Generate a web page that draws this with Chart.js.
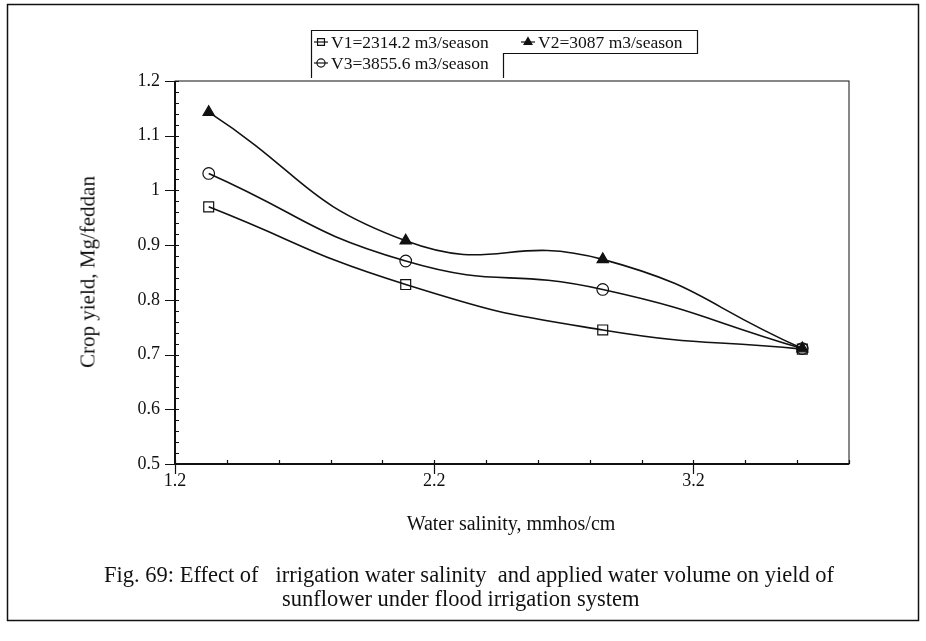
<!DOCTYPE html>
<html>
<head>
<meta charset="utf-8">
<script src="https://cdn.jsdelivr.net/npm/chart.js@4.4.0/dist/chart.umd.min.js"></script>
<style>
html,body{margin:0;padding:0;background:#fff;}
#wrap{position:relative;width:926px;height:641px;overflow:hidden;}
#chart{position:absolute;left:0;top:0;}
.txt{position:absolute;font-family:"Liberation Serif","Times New Roman",serif;color:#111;white-space:pre;line-height:1;}
</style>
</head>
<body>
<div id="wrap">
  <canvas id="chart" width="926" height="641"></canvas>
  <div class="txt" id="ytitle" style="font-size:21px;left:88px;top:272px;transform:translate(-50%,-50%) rotate(-90deg);">Crop yield, Mg/feddan</div>
  <div class="txt" style="font-size:20px;left:511px;top:523px;transform:translate(-50%,-50%);">Water salinity, mmhos/cm</div>
  <div class="txt" style="font-size:22.5px;left:104px;top:564px;">Fig. 69: Effect of   irrigation water salinity  and applied water volume on yield of</div>
  <div class="txt" style="font-size:22.5px;left:282px;top:588px;">sunflower under flood irrigation system</div>
</div>
<script>
// values
const salinity = [1.33, 2.09, 2.85, 3.62];
const yieldV1 = [0.97, 0.828, 0.745, 0.71];
const yieldV2 = [1.143, 0.908, 0.874, 0.711];
const yieldV3 = [1.031, 0.871, 0.819, 0.711];
const seriesNames = ['V1=2314.2 m3/season', 'V2=3087 m3/season', 'V3=3855.6 m3/season'];
const xTicks = [1.2, 2.2, 3.2];
const yTicks = [0.5, 0.6, 0.7, 0.8, 0.9, 1, 1.1, 1.2];

const FONT = '"Liberation Serif", "Times New Roman", serif';
const INK = '#111';

function pts(ys){ return ys.map((y,i)=>({x:salinity[i], y:y})); }

const markers = [
  {pointStyle:'rect', radius:7, fill:'rgba(0,0,0,0)'},
  {pointStyle:'triangle', radius:6.5, fill:INK},
  {pointStyle:'circle', radius:5.8, fill:'rgba(0,0,0,0)'}
];

const datasets = [yieldV1, yieldV2, yieldV3].map((ys,i)=>({
  label: seriesNames[i],
  data: pts(ys),
  showLine: true,
  borderColor: INK,
  borderWidth: 1.6,
  tension: 0.5,
  pointStyle: markers[i].pointStyle,
  pointRadius: markers[i].radius,
  pointBackgroundColor: markers[i].fill,
  pointBorderColor: INK,
  pointBorderWidth: 1.2
}));

// box, ticks, legend and outer frame
const decor = {
  id: 'decor',
  afterDraw(chart){
    const ctx = chart.ctx, a = chart.chartArea;
    const xs = chart.scales.x, ys = chart.scales.y;
    ctx.save();
    ctx.strokeStyle = INK;
    // outer frame
    ctx.lineWidth = 1.5;
    ctx.strokeRect(7.5, 4.5, 911, 616);
    // plot box
    ctx.lineWidth = 1;
    ctx.strokeRect(a.left, a.top, a.right - a.left, a.bottom - a.top);
    ctx.lineWidth = 2;
    ctx.beginPath();
    ctx.moveTo(a.left, a.top); ctx.lineTo(a.left, a.bottom); ctx.lineTo(a.right, a.bottom);
    ctx.stroke();
    // ticks
    ctx.lineWidth = 1.2;
    ctx.beginPath();
    for (let v = 0.5; v <= 1.2001; v += 0.02) {
      const py = Math.round(ys.getPixelForValue(v)) + 0.5;
      ctx.moveTo(a.left, py); ctx.lineTo(a.left + 4, py);
    }
    yTicks.forEach(v=>{
      const py = Math.round(ys.getPixelForValue(v)) + 0.5;
      ctx.moveTo(a.left - 10, py); ctx.lineTo(a.left, py);
    });
    for (let v = 1.2; v <= 3.8001; v += 0.2) {
      const px = Math.round(xs.getPixelForValue(v)) + 0.5;
      ctx.moveTo(px, a.bottom); ctx.lineTo(px, a.bottom - 4);
    }
    xTicks.forEach(v=>{
      const px = Math.round(xs.getPixelForValue(v)) + 0.5;
      ctx.moveTo(px, a.bottom); ctx.lineTo(px, a.bottom + 10);
    });
    ctx.stroke();
    // legend box (stepped, like the scan)
    ctx.lineWidth = 1.2;
    ctx.beginPath();
    ctx.moveTo(311.5, 78); ctx.lineTo(311.5, 30.5); ctx.lineTo(697.5, 30.5);
    ctx.lineTo(697.5, 53.5); ctx.lineTo(503.5, 53.5); ctx.lineTo(503.5, 78);
    ctx.stroke();
    const items = [{x:321, y:42}, {x:528, y:42}, {x:321, y:63}];
    ctx.font = '17.5px ' + FONT;
    ctx.textBaseline = 'middle';
    ctx.fillStyle = INK;
    chart.data.datasets.forEach((ds,i)=>{
      const it = items[i];
      ctx.lineWidth = 1.2;
      ctx.beginPath(); ctx.moveTo(it.x - 7, it.y); ctx.lineTo(it.x + 7, it.y); ctx.stroke();
      ctx.fillStyle = ds.pointBackgroundColor;
      Chart.helpers.drawPoint(ctx, {pointStyle: ds.pointStyle, radius: ds.pointRadius * 0.7, rotation: 0, borderWidth: 1}, it.x, it.y);
      ctx.fillStyle = INK;
      ctx.fillText(ds.label, it.x + 10, it.y + 1);
    });
    ctx.restore();
  }
};

new Chart(document.getElementById('chart'), {
  type: 'scatter',
  data: {datasets: datasets},
  options: {
    responsive: false,
    animation: false,
    devicePixelRatio: 1,
    layout: {padding: {left: 0, top: 81, right: 77, bottom: 0}},
    plugins: {legend: {display: false}, tooltip: {enabled: false}},
    scales: {
      x: {
        type: 'linear', min: 1.2, max: 3.8,
        afterFit(s){ s.height = 177; },
        afterBuildTicks(s){ s.ticks = xTicks.map(v=>({value:v})); },
        grid: {display: false, drawTicks: false},
        border: {display: false},
        ticks: {padding: 6, color: INK, font: {family: FONT, size: 18}, callback: v => String(v)}
      },
      y: {
        type: 'linear', min: 0.5, max: 1.2,
        afterFit(s){ s.width = 175; },
        afterBuildTicks(s){ s.ticks = yTicks.map(v=>({value:v})); },
        grid: {display: false, drawTicks: false},
        border: {display: false},
        ticks: {padding: 15, color: INK, font: {family: FONT, size: 18}, callback: v => String(v)}
      }
    }
  },
  plugins: [decor]
});
</script>
</body>
</html>
